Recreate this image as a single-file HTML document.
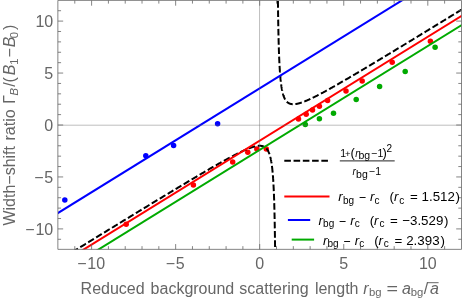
<!DOCTYPE html>
<html><head><meta charset="utf-8"><title>plot</title>
<style>html,body{margin:0;padding:0;background:#fff;}svg{display:block;transform:translateZ(0);will-change:transform;}text{font-family:"Liberation Sans",sans-serif;}</style>
</head><body>
<svg width="463" height="302" viewBox="0 0 463 302">
<rect x="0" y="0" width="463" height="302" fill="#ffffff"/>
<defs><clipPath id="c"><rect x="58.00" y="0.40" width="403.50" height="249.00"/></clipPath></defs>
<g clip-path="url(#c)">
<circle cx="64.8" cy="200.1" r="2.75" fill="#0000ff"/>
<circle cx="145.8" cy="155.8" r="2.75" fill="#0000ff"/>
<circle cx="173.6" cy="145.6" r="2.75" fill="#0000ff"/>
<circle cx="217.6" cy="123.7" r="2.75" fill="#0000ff"/>
<circle cx="126.2" cy="224.3" r="2.75" fill="#ff0000"/>
<circle cx="193.4" cy="185.0" r="2.75" fill="#ff0000"/>
<circle cx="232.7" cy="161.9" r="2.75" fill="#ff0000"/>
<circle cx="247.8" cy="152.2" r="2.75" fill="#ff0000"/>
<circle cx="256.8" cy="148.9" r="2.75" fill="#ff0000"/>
<circle cx="266.3" cy="148.9" r="2.75" fill="#ff0000"/>
<circle cx="298.5" cy="118.9" r="2.75" fill="#ff0000"/>
<circle cx="306.2" cy="114.2" r="2.75" fill="#ff0000"/>
<circle cx="312.5" cy="110.1" r="2.75" fill="#ff0000"/>
<circle cx="319.4" cy="106.2" r="2.75" fill="#ff0000"/>
<circle cx="327.6" cy="100.6" r="2.75" fill="#ff0000"/>
<circle cx="346.0" cy="91.1" r="2.75" fill="#ff0000"/>
<circle cx="362.2" cy="80.9" r="2.75" fill="#ff0000"/>
<circle cx="392.2" cy="62.2" r="2.75" fill="#ff0000"/>
<circle cx="430.4" cy="41.2" r="2.75" fill="#ff0000"/>
<circle cx="305.3" cy="124.4" r="2.75" fill="#00aa00"/>
<circle cx="319.4" cy="118.7" r="2.75" fill="#00aa00"/>
<circle cx="333.5" cy="113.2" r="2.75" fill="#00aa00"/>
<circle cx="356.2" cy="99.5" r="2.75" fill="#00aa00"/>
<circle cx="379.6" cy="86.5" r="2.75" fill="#00aa00"/>
<circle cx="405.2" cy="71.5" r="2.75" fill="#00aa00"/>
<circle cx="435.1" cy="47.3" r="2.75" fill="#00aa00"/>
<path d="M57.98,260.87 L59.44,259.97 L60.90,259.08 L62.34,258.19 L63.78,257.31 L65.20,256.43 L66.62,255.56 L68.03,254.70 L69.42,253.84 L70.81,252.99 L72.19,252.14 L73.56,251.30 L74.92,250.47 L76.27,249.64 L77.61,248.82 L78.94,248.00 L80.27,247.19 L81.58,246.38 L82.89,245.58 L84.18,244.78 L85.47,243.99 L86.75,243.21 L88.03,242.43 L89.29,241.65 L90.54,240.88 L91.79,240.12 L93.03,239.36 L94.26,238.61 L95.48,237.86 L96.69,237.12 L97.89,236.38 L99.09,235.64 L100.28,234.92 L101.46,234.19 L102.63,233.47 L103.80,232.76 L104.96,232.05 L106.11,231.35 L107.25,230.65 L108.38,229.96 L109.51,229.27 L110.63,228.58 L111.74,227.90 L112.84,227.23 L113.94,226.56 L115.03,225.89 L116.11,225.23 L117.19,224.57 L118.25,223.92 L119.31,223.27 L120.37,222.63 L121.41,221.99 L122.45,221.35 L123.48,220.72 L124.51,220.10 L125.53,219.48 L126.54,218.86 L127.54,218.25 L128.54,217.64 L129.53,217.03 L130.52,216.43 L131.50,215.83 L132.47,215.24 L133.43,214.65 L134.39,214.07 L135.34,213.49 L136.29,212.91 L137.23,212.34 L138.16,211.77 L139.09,211.21 L140.01,210.65 L140.93,210.09 L141.83,209.54 L142.74,208.99 L143.63,208.44 L144.52,207.90 L145.41,207.36 L146.29,206.83 L147.16,206.30 L148.03,205.77 L148.89,205.25 L149.74,204.73 L150.59,204.22 L151.43,203.70 L152.27,203.20 L153.10,202.69 L153.93,202.19 L154.75,201.69 L155.57,201.20 L156.38,200.70 L157.18,200.22 L157.98,199.73 L158.78,199.25 L159.57,198.77 L160.35,198.30 L161.13,197.83 L161.90,197.36 L162.67,196.90 L163.43,196.44 L164.19,195.98 L164.94,195.52 L165.69,195.07 L166.43,194.62 L167.17,194.18 L167.90,193.74 L168.63,193.30 L169.35,192.86 L170.07,192.43 L170.78,192.00 L171.49,191.57 L172.20,191.15 L172.90,190.73 L173.59,190.31 L174.28,189.90 L174.96,189.48 L175.64,189.07 L176.32,188.67 L176.99,188.27 L177.66,187.87 L178.32,187.47 L178.98,187.07 L179.63,186.68 L180.28,186.29 L180.93,185.91 L181.57,185.52 L182.20,185.14 L182.83,184.76 L183.46,184.39 L184.09,184.02 L184.71,183.65 L185.32,183.28 L185.93,182.91 L186.54,182.55 L187.14,182.19 L187.74,181.83 L188.33,181.48 L188.93,181.13 L189.51,180.78 L190.10,180.43 L190.67,180.09 L191.25,179.75 L191.82,179.41 L192.39,179.07 L192.95,178.74 L193.51,178.40 L194.07,178.07 L194.62,177.75 L195.17,177.42 L195.71,177.10 L196.26,176.78 L196.79,176.46 L197.33,176.15 L197.86,175.83 L198.38,175.52 L198.91,175.22 L199.43,174.91 L199.94,174.60 L200.46,174.30 L200.97,174.00 L201.47,173.71 L201.98,173.41 L202.48,173.12 L202.97,172.83 L203.46,172.54 L203.95,172.25 L204.44,171.97 L204.92,171.69 L205.40,171.41 L205.88,171.13 L206.35,170.85 L206.82,170.58 L207.29,170.31 L207.75,170.04 L208.21,169.77 L208.67,169.50 L209.13,169.24 L209.58,168.98 L210.03,168.72 L210.47,168.46 L210.91,168.21 L211.35,167.95 L211.79,167.70 L212.22,167.45 L212.65,167.20 L213.08,166.96 L213.51,166.71 L213.93,166.47 L214.35,166.23 L214.77,165.99 L215.18,165.76 L215.59,165.52 L216.00,165.29 L216.40,165.06 L216.81,164.83 L217.21,164.60 L217.60,164.37 L218.00,164.15 L218.39,163.93 L218.78,163.71 L219.17,163.49 L219.55,163.27 L219.93,163.06 L220.31,162.84 L220.69,162.63 L221.06,162.42 L221.43,162.21 L221.80,162.01 L222.17,161.80 L222.53,161.60 L222.90,161.40 L223.25,161.20 L223.61,161.00 L223.97,160.80 L224.32,160.61 L224.67,160.41 L225.01,160.22 L225.36,160.03 L225.70,159.84 L226.04,159.65 L226.38,159.47 L226.72,159.28 L227.05,159.10 L227.38,158.92 L227.71,158.74 L228.04,158.56 L228.36,158.39 L228.69,158.21 L229.01,158.04 L229.32,157.87 L229.64,157.70 L229.95,157.53 L230.27,157.36 L230.58,157.19 L230.88,157.03 L231.19,156.87 L231.49,156.70 L231.80,156.54 L232.09,156.38 L232.39,156.23 L232.69,156.07 L232.98,155.92 L233.27,155.76 L233.56,155.61 L233.85,155.46 L234.14,155.31 L234.42,155.16 L234.70,155.02 L234.98,154.87 L235.26,154.73 L235.54,154.59 L235.81,154.45 L236.08,154.31 L236.36,154.17 L236.62,154.03 L236.89,153.90 L237.16,153.76 L237.42,153.63 L237.68,153.50 L237.94,153.37 L238.20,153.24 L238.46,153.11 L238.71,152.98 L238.97,152.86 L239.22,152.73 L239.47,152.61 L239.72,152.49 L239.96,152.37 L240.21,152.25 L240.45,152.13 L240.69,152.01 L240.93,151.90 L241.17,151.79 L241.41,151.67 L241.64,151.56 L241.88,151.45 L242.11,151.34 L242.34,151.23 L242.57,151.12 L242.79,151.02 L243.02,150.91 L243.25,150.81 L243.47,150.71 L243.69,150.61 L243.91,150.51 L244.13,150.41 L244.34,150.31 L244.56,150.21 L244.77,150.12 L244.99,150.02 L245.20,149.93 L245.41,149.84 L245.62,149.75 L245.82,149.66 L246.03,149.57 L246.23,149.48 L246.44,149.40 L246.64,149.31 L246.84,149.23 L247.04,149.14 L247.23,149.06 L247.43,148.98 L247.63,148.90 L247.82,148.82 L248.01,148.74 L248.20,148.67 L248.39,148.59 L248.58,148.52 L248.77,148.44 L248.95,148.37 L249.14,148.30 L249.32,148.23 L249.50,148.16 L249.68,148.09 L249.86,148.02 L250.04,147.96 L250.22,147.89 L250.40,147.83 L250.57,147.77 L250.74,147.70 L250.92,147.64 L251.09,147.58 L251.26,147.52 L251.43,147.47 L251.60,147.41 L251.76,147.35 L251.93,147.30 L252.09,147.24 L252.26,147.19 L252.42,147.14 L252.58,147.09 L252.74,147.04 L252.90,146.99 L253.06,146.94 L253.22,146.90 L253.37,146.85 L253.53,146.80 L253.68,146.76 L253.83,146.72 L253.99,146.68 L254.14,146.63 L254.29,146.59 L254.44,146.56 L254.58,146.52 L254.73,146.48 L254.88,146.44 L255.02,146.41 L255.17,146.38 L255.31,146.34 L255.45,146.31 L255.59,146.28 L255.73,146.25 L255.87,146.22 L256.01,146.19 L256.15,146.16 L256.28,146.14 L256.42,146.11 L256.55,146.09 L256.69,146.06 L256.82,146.04 L256.95,146.02 L257.08,146.00 L257.21,145.98 L257.34,145.96 L257.47,145.94 L257.60,145.92 L257.73,145.91 L257.85,145.89 L257.98,145.88 L258.10,145.87 L258.22,145.85 L258.35,145.84 L258.47,145.83 L258.59,145.82 L258.71,145.81 L258.83,145.81 L258.95,145.80 L259.06,145.79 L259.18,145.79 L259.30,145.79 L259.41,145.78 L259.53,145.78 L259.64,145.78 L259.75,145.78 L259.87,145.78 L259.98,145.78 L260.09,145.79 L260.20,145.79 L260.31,145.79 L260.42,145.80 L260.52,145.81 L260.63,145.81 L260.74,145.82 L260.84,145.83 L260.95,145.84 L261.05,145.85 L261.16,145.87 L261.26,145.88 L261.36,145.89 L261.46,145.91 L261.56,145.92 L261.66,145.94 L261.76,145.96 L261.86,145.98 L261.96,146.00 L262.06,146.02 L262.15,146.04 L262.25,146.06 L262.35,146.09 L262.44,146.11 L262.54,146.14 L262.63,146.16 L262.72,146.19 L262.81,146.22 L262.91,146.25 L263.00,146.28 L263.09,146.31 L263.18,146.34 L263.27,146.37 L263.36,146.41 L263.44,146.44 L263.53,146.48 L263.62,146.52 L263.70,146.55 L263.79,146.59 L263.88,146.63 L263.96,146.67 L264.04,146.72 L264.13,146.76 L264.21,146.80 L264.29,146.85 L264.38,146.89 L264.46,146.94 L264.54,146.99 L264.62,147.04 L264.70,147.09 L264.78,147.14 L264.86,147.19 L264.93,147.24 L265.01,147.30 L265.09,147.35 L265.16,147.41 L265.24,147.46 L265.32,147.52 L265.39,147.58 L265.47,147.64 L265.54,147.70 L265.61,147.76 L265.69,147.83 L265.76,147.89 L265.83,147.96 L265.90,148.02 L265.97,148.09 L266.04,148.16 L266.11,148.23 L266.18,148.30 L266.25,148.37 L266.32,148.44 L266.39,148.51 L266.46,148.59 L266.52,148.66 L266.59,148.74 L266.66,148.82 L266.72,148.90 L266.79,148.98 L266.86,149.06 L266.92,149.14 L266.98,149.22 L267.05,149.31 L267.11,149.39 L267.17,149.48 L267.24,149.57 L267.30,149.65 L267.36,149.74 L267.42,149.84 L267.48,149.93 L267.54,150.02 L267.60,150.11 L267.66,150.21 L267.72,150.31 L267.78,150.40 L267.84,150.50 L267.90,150.60 L267.96,150.70 L268.01,150.81 L268.07,150.91 L268.13,151.01 L268.18,151.12 L268.24,151.23 L268.29,151.34 L268.35,151.44 L268.40,151.56 L268.46,151.67 L268.51,151.78 L268.57,151.89 L268.62,152.01 L268.67,152.13 L268.72,152.24 L268.78,152.36 L268.83,152.48 L268.88,152.61 L268.93,152.73 L268.98,152.85 L269.03,152.98 L269.08,153.10 L269.13,153.23 L269.18,153.36 L269.23,153.49 L269.28,153.62 L269.33,153.76 L269.38,153.89 L269.42,154.03 L269.47,154.16 L269.52,154.30 L269.56,154.44 L269.61,154.58 L269.66,154.72 L269.70,154.87 L269.75,155.01 L269.79,155.16 L269.84,155.31 L269.88,155.45 L269.93,155.61 L269.97,155.76 L270.02,155.91 L270.06,156.06 L270.10,156.22 L270.15,156.38 L270.19,156.54 L270.23,156.70 L270.27,156.86 L270.31,157.02 L270.36,157.19 L270.40,157.35 L270.44,157.52 L270.48,157.69 L270.52,157.86 L270.56,158.03 L270.60,158.20 L270.64,158.38 L270.68,158.56 L270.72,158.73 L270.76,158.91 L270.80,159.09 L270.83,159.28 L270.87,159.46 L270.91,159.65 L270.95,159.83 L270.98,160.02 L271.02,160.21 L271.06,160.40 L271.09,160.60 L271.13,160.79 L271.17,160.99 L271.20,161.19 L271.24,161.39 L271.27,161.59 L271.31,161.79 L271.34,162.00 L271.38,162.20 L271.41,162.41 L271.45,162.62 L271.48,162.83 L271.51,163.05 L271.55,163.26 L271.58,163.48 L271.61,163.70 L271.65,163.92 L271.68,164.14 L271.71,164.36 L271.74,164.59 L271.78,164.82 L271.81,165.05 L271.84,165.28 L271.87,165.51 L271.90,165.75 L271.93,165.98 L271.96,166.22 L271.99,166.46 L272.02,166.70 L272.05,166.95 L272.08,167.19 L272.11,167.44 L272.14,167.69 L272.17,167.94 L272.20,168.20 L272.23,168.45 L272.26,168.71 L272.29,168.97 L272.32,169.23 L272.34,169.49 L272.37,169.76 L272.40,170.03 L272.43,170.30 L272.45,170.57 L272.48,170.84 L272.51,171.12 L272.53,171.39 L272.56,171.67 L272.59,171.96 L272.61,172.24 L272.64,172.53 L272.67,172.82 L272.69,173.11 L272.72,173.40 L272.74,173.69 L272.77,173.99 L272.79,174.29 L272.82,174.59 L272.84,174.90 L272.87,175.20 L272.89,175.51 L272.92,175.82 L272.94,176.13 L272.96,176.45 L272.99,176.77 L273.01,177.09 L273.04,177.41 L273.06,177.73 L273.08,178.06 L273.10,178.39 L273.13,178.72 L273.15,179.06 L273.17,179.39 L273.19,179.73 L273.22,180.07 L273.24,180.42 L273.26,180.76 L273.28,181.11 L273.30,181.47 L273.33,181.82 L273.35,182.18 L273.37,182.54 L273.39,182.90 L273.41,183.26 L273.43,183.63 L273.45,184.00 L273.47,184.37 L273.49,184.75 L273.51,185.13 L273.53,185.51 L273.55,185.89 L273.57,186.28 L273.59,186.66 L273.61,187.06 L273.63,187.45 L273.65,187.85 L273.67,188.25 L273.69,188.65 L273.71,189.06 L273.73,189.47 L273.75,189.88 L273.76,190.29 L273.78,190.71 L273.80,191.13 L273.82,191.55 L273.84,191.98 L273.85,192.41 L273.87,192.84 L273.89,193.28 L273.91,193.72 L273.92,194.16 L273.94,194.60 L273.96,195.05 L273.98,195.50 L273.99,195.96 L274.01,196.42 L274.03,196.88 L274.04,197.34 L274.06,197.81 L274.08,198.28 L274.09,198.75 L274.11,199.23 L274.13,199.71 L274.14,200.20 L274.16,200.68 L274.17,201.17 L274.19,201.67 L274.20,202.17 L274.22,202.67 L274.23,203.17 L274.25,203.68 L274.27,204.19 L274.28,204.71 L274.30,205.23 L274.31,205.75 L274.32,206.28 L274.34,206.81 L274.35,207.34 L274.37,207.88 L274.38,208.42 L274.40,208.97 L274.41,209.51 L274.43,210.07 L274.44,210.62 L274.45,211.18 L274.47,211.75 L274.48,212.32 L274.49,212.89 L274.51,213.46 L274.52,214.04 L274.53,214.63 L274.55,215.22 L274.56,215.81 L274.57,216.41 L274.59,217.01 L274.60,217.61 L274.61,218.22 L274.63,218.83 L274.64,219.45 L274.65,220.07 L274.66,220.70 L274.68,221.33 L274.69,221.96 L274.70,222.60 L274.71,223.24 L274.72,223.89 L274.74,224.54 L274.75,225.20 L274.76,225.86 L274.77,226.53 L274.78,227.20 L274.79,227.87 L274.81,228.55 L274.82,229.24 L274.83,229.93 L274.84,230.62 L274.85,231.32 L274.86,232.02 L274.87,232.73 L274.88,233.44 L274.90,234.16 L274.91,234.88 L274.92,235.61 L274.93,236.35 L274.94,237.08 L274.95,237.83 L274.96,238.57 L274.97,239.33 L274.98,240.09 L274.99,240.85 L275.00,241.62 L275.01,242.39 L275.02,243.17 L275.03,243.96 L275.04,244.75 L275.05,245.54 L275.06,246.34 L275.07,247.15 L275.08,247.96 L275.09,248.78 L275.10,249.60 L275.11,250.43 L275.12,251.27 L275.13,252.11 L275.14,252.95 L275.15,253.80 L275.15,254.66 L275.16,255.53 L275.17,256.39 L275.18,257.27 L275.19,258.15 L275.20,259.04 L275.21,259.93 L275.22,260.83 L275.23,261.74 L275.23,262.65 L275.24,263.57 L275.25,264.49 L275.26,265.42 L275.27,266.36 L275.28,267.30 L275.28,268.25 L275.29,269.21 L275.30,270.17 L275.31,271.14 L275.32,272.11 L275.32,273.10 L275.33,274.09 L275.34,275.08 L275.35,276.08 L275.36,277.09 L275.36,278.11 L275.37,279.13 L275.38,280.16 L275.39,281.20 L275.39,282.24 L275.40,283.30 L275.41,284.36 L275.42,285.42 L275.42,286.49 L275.43,287.57 L275.44,288.66 L275.45,289.76 L275.45,290.86 L275.46,291.97 L275.47,293.09 L275.47,294.21 L275.48,295.35 L275.49,296.49 L275.49,297.63 L275.50,298.79" fill="none" stroke="#000" stroke-width="2.00" stroke-dasharray="6.636 2.674" stroke-dashoffset="1.78"/>
<path d="M277.52,-48.79 L277.53,-47.67 L277.53,-46.55 L277.54,-45.44 L277.55,-44.34 L277.55,-43.24 L277.56,-42.15 L277.57,-41.07 L277.57,-40.00 L277.58,-38.93 L277.59,-37.87 L277.59,-36.82 L277.60,-35.78 L277.61,-34.74 L277.62,-33.71 L277.62,-32.68 L277.63,-31.66 L277.64,-30.65 L277.64,-29.65 L277.65,-28.65 L277.66,-27.66 L277.67,-26.67 L277.67,-25.69 L277.68,-24.72 L277.69,-23.75 L277.70,-22.79 L277.71,-21.84 L277.71,-20.89 L277.72,-19.95 L277.73,-19.02 L277.74,-18.09 L277.75,-17.17 L277.75,-16.25 L277.76,-15.34 L277.77,-14.44 L277.78,-13.54 L277.79,-12.65 L277.79,-11.76 L277.80,-10.88 L277.81,-10.00 L277.82,-9.13 L277.83,-8.27 L277.84,-7.41 L277.85,-6.56 L277.85,-5.72 L277.86,-4.87 L277.87,-4.04 L277.88,-3.21 L277.89,-2.39 L277.90,-1.57 L277.91,-0.75 L277.92,0.06 L277.93,0.86 L277.94,1.66 L277.95,2.45 L277.95,3.23 L277.96,4.02 L277.97,4.79 L277.98,5.56 L277.99,6.33 L278.00,7.09 L278.01,7.85 L278.02,8.60 L278.03,9.34 L278.04,10.09 L278.05,10.82 L278.06,11.55 L278.07,12.28 L278.08,13.00 L278.09,13.72 L278.10,14.43 L278.11,15.14 L278.12,15.84 L278.14,16.54 L278.15,17.23 L278.16,17.92 L278.17,18.61 L278.18,19.29 L278.19,19.96 L278.20,20.63 L278.21,21.30 L278.22,21.96 L278.23,22.62 L278.25,23.27 L278.26,23.92 L278.27,24.56 L278.28,25.20 L278.29,25.84 L278.30,26.47 L278.31,27.10 L278.33,27.72 L278.34,28.34 L278.35,28.96 L278.36,29.57 L278.37,30.17 L278.39,30.78 L278.40,31.38 L278.41,31.97 L278.42,32.56 L278.44,33.15 L278.45,33.73 L278.46,34.31 L278.47,34.89 L278.49,35.46 L278.50,36.02 L278.51,36.59 L278.53,37.15 L278.54,37.70 L278.55,38.26 L278.57,38.80 L278.58,39.35 L278.59,39.89 L278.61,40.43 L278.62,40.96 L278.63,41.49 L278.65,42.02 L278.66,42.54 L278.68,43.06 L278.69,43.58 L278.71,44.09 L278.72,44.60 L278.73,45.11 L278.75,45.61 L278.76,46.11 L278.78,46.61 L278.79,47.10 L278.81,47.59 L278.82,48.07 L278.84,48.56 L278.85,49.03 L278.87,49.51 L278.88,49.98 L278.90,50.45 L278.92,50.92 L278.93,51.38 L278.95,51.84 L278.96,52.30 L278.98,52.75 L279.00,53.20 L279.01,53.65 L279.03,54.10 L279.05,54.54 L279.06,54.98 L279.08,55.41 L279.10,55.84 L279.11,56.27 L279.13,56.70 L279.15,57.13 L279.16,57.55 L279.18,57.96 L279.20,58.38 L279.22,58.79 L279.23,59.20 L279.25,59.61 L279.27,60.01 L279.29,60.41 L279.31,60.81 L279.32,61.21 L279.34,61.60 L279.36,61.99 L279.38,62.38 L279.40,62.76 L279.42,63.14 L279.44,63.52 L279.46,63.90 L279.48,64.27 L279.50,64.65 L279.51,65.02 L279.53,65.38 L279.55,65.75 L279.57,66.11 L279.59,66.47 L279.61,66.82 L279.63,67.18 L279.66,67.53 L279.68,67.88 L279.70,68.22 L279.72,68.57 L279.74,68.91 L279.76,69.25 L279.78,69.59 L279.80,69.92 L279.82,70.25 L279.85,70.58 L279.87,70.91 L279.89,71.24 L279.91,71.56 L279.93,71.88 L279.96,72.20 L279.98,72.51 L280.00,72.83 L280.03,73.14 L280.05,73.45 L280.07,73.76 L280.09,74.06 L280.12,74.36 L280.14,74.67 L280.17,74.96 L280.19,75.26 L280.21,75.55 L280.24,75.85 L280.26,76.14 L280.29,76.43 L280.31,76.71 L280.34,77.00 L280.36,77.28 L280.39,77.56 L280.41,77.83 L280.44,78.11 L280.46,78.38 L280.49,78.66 L280.52,78.93 L280.54,79.19 L280.57,79.46 L280.60,79.72 L280.62,79.99 L280.65,80.25 L280.68,80.50 L280.70,80.76 L280.73,81.01 L280.76,81.27 L280.79,81.52 L280.81,81.77 L280.84,82.01 L280.87,82.26 L280.90,82.50 L280.93,82.74 L280.96,82.98 L280.99,83.22 L281.02,83.46 L281.05,83.69 L281.08,83.92 L281.11,84.15 L281.14,84.38 L281.17,84.61 L281.20,84.84 L281.23,85.06 L281.26,85.28 L281.29,85.50 L281.32,85.72 L281.35,85.94 L281.38,86.15 L281.42,86.37 L281.45,86.58 L281.48,86.79 L281.51,87.00 L281.55,87.20 L281.58,87.41 L281.61,87.61 L281.65,87.82 L281.68,88.02 L281.71,88.22 L281.75,88.41 L281.78,88.61 L281.82,88.80 L281.85,89.00 L281.89,89.19 L281.92,89.38 L281.96,89.57 L281.99,89.75 L282.03,89.94 L282.06,90.12 L282.10,90.31 L282.14,90.49 L282.17,90.67 L282.21,90.84 L282.25,91.02 L282.29,91.20 L282.32,91.37 L282.36,91.54 L282.40,91.71 L282.44,91.88 L282.48,92.05 L282.52,92.22 L282.56,92.38 L282.60,92.54 L282.64,92.71 L282.68,92.87 L282.72,93.03 L282.76,93.19 L282.80,93.34 L282.84,93.50 L282.88,93.65 L282.92,93.80 L282.97,93.96 L283.01,94.11 L283.05,94.25 L283.09,94.40 L283.14,94.55 L283.18,94.69 L283.22,94.84 L283.27,94.98 L283.31,95.12 L283.36,95.26 L283.40,95.40 L283.45,95.54 L283.49,95.67 L283.54,95.81 L283.58,95.94 L283.63,96.07 L283.68,96.20 L283.72,96.33 L283.77,96.46 L283.82,96.59 L283.87,96.71 L283.92,96.84 L283.96,96.96 L284.01,97.08 L284.06,97.21 L284.11,97.33 L284.16,97.44 L284.21,97.56 L284.26,97.68 L284.31,97.79 L284.36,97.91 L284.42,98.02 L284.47,98.13 L284.52,98.24 L284.57,98.35 L284.63,98.46 L284.68,98.57 L284.73,98.68 L284.79,98.78 L284.84,98.88 L284.89,98.99 L284.95,99.09 L285.01,99.19 L285.06,99.29 L285.12,99.39 L285.17,99.49 L285.23,99.58 L285.29,99.68 L285.35,99.77 L285.40,99.86 L285.46,99.96 L285.52,100.05 L285.58,100.14 L285.64,100.22 L285.70,100.31 L285.76,100.40 L285.82,100.48 L285.88,100.57 L285.94,100.65 L286.00,100.74 L286.07,100.82 L286.13,100.90 L286.19,100.98 L286.26,101.05 L286.32,101.13 L286.38,101.21 L286.45,101.28 L286.51,101.36 L286.58,101.43 L286.65,101.50 L286.71,101.57 L286.78,101.64 L286.85,101.71 L286.91,101.78 L286.98,101.85 L287.05,101.92 L287.12,101.98 L287.19,102.04 L287.26,102.11 L287.33,102.17 L287.40,102.23 L287.47,102.29 L287.54,102.35 L287.62,102.41 L287.69,102.47 L287.76,102.52 L287.84,102.58 L287.91,102.63 L287.99,102.69 L288.06,102.74 L288.14,102.79 L288.21,102.84 L288.29,102.89 L288.37,102.94 L288.44,102.99 L288.52,103.04 L288.60,103.08 L288.68,103.13 L288.76,103.17 L288.84,103.21 L288.92,103.26 L289.00,103.30 L289.09,103.34 L289.17,103.38 L289.25,103.42 L289.33,103.45 L289.42,103.49 L289.50,103.53 L289.59,103.56 L289.67,103.60 L289.76,103.63 L289.85,103.66 L289.93,103.69 L290.02,103.72 L290.11,103.75 L290.20,103.78 L290.29,103.81 L290.38,103.83 L290.47,103.86 L290.56,103.89 L290.66,103.91 L290.75,103.93 L290.84,103.96 L290.94,103.98 L291.03,104.00 L291.13,104.02 L291.22,104.03 L291.32,104.05 L291.41,104.07 L291.51,104.09 L291.61,104.10 L291.71,104.11 L291.81,104.13 L291.91,104.14 L292.01,104.15 L292.11,104.16 L292.21,104.17 L292.32,104.18 L292.42,104.19 L292.53,104.20 L292.63,104.20 L292.74,104.21 L292.84,104.21 L292.95,104.21 L293.06,104.22 L293.17,104.22 L293.28,104.22 L293.39,104.22 L293.50,104.22 L293.61,104.22 L293.72,104.21 L293.83,104.21 L293.95,104.21 L294.06,104.20 L294.18,104.19 L294.29,104.19 L294.41,104.18 L294.53,104.17 L294.64,104.16 L294.76,104.15 L294.88,104.14 L295.00,104.13 L295.12,104.11 L295.25,104.10 L295.37,104.08 L295.49,104.07 L295.62,104.05 L295.74,104.03 L295.87,104.01 L296.00,103.99 L296.12,103.97 L296.25,103.95 L296.38,103.93 L296.51,103.91 L296.64,103.88 L296.77,103.86 L296.91,103.83 L297.04,103.80 L297.18,103.78 L297.31,103.75 L297.45,103.72 L297.59,103.69 L297.72,103.65 L297.86,103.62 L298.00,103.59 L298.14,103.56 L298.29,103.52 L298.43,103.48 L298.57,103.45 L298.72,103.41 L298.86,103.37 L299.01,103.33 L299.16,103.29 L299.31,103.25 L299.45,103.21 L299.61,103.16 L299.76,103.12 L299.91,103.07 L300.06,103.03 L300.22,102.98 L300.37,102.93 L300.53,102.88 L300.69,102.83 L300.84,102.78 L301.00,102.73 L301.17,102.68 L301.33,102.62 L301.49,102.57 L301.65,102.51 L301.82,102.46 L301.98,102.40 L302.15,102.34 L302.32,102.28 L302.49,102.22 L302.66,102.16 L302.83,102.10 L303.00,102.03 L303.18,101.97 L303.35,101.90 L303.53,101.84 L303.71,101.77 L303.88,101.70 L304.06,101.63 L304.24,101.56 L304.43,101.49 L304.61,101.42 L304.79,101.34 L304.98,101.27 L305.17,101.19 L305.35,101.12 L305.54,101.04 L305.73,100.96 L305.92,100.88 L306.12,100.80 L306.31,100.72 L306.51,100.64 L306.70,100.55 L306.90,100.47 L307.10,100.38 L307.30,100.30 L307.50,100.21 L307.71,100.12 L307.91,100.03 L308.12,99.94 L308.32,99.85 L308.53,99.75 L308.74,99.66 L308.95,99.56 L309.17,99.47 L309.38,99.37 L309.60,99.27 L309.81,99.17 L310.03,99.07 L310.25,98.97 L310.47,98.87 L310.70,98.76 L310.92,98.66 L311.15,98.55 L311.37,98.44 L311.60,98.33 L311.83,98.22 L312.06,98.11 L312.30,98.00 L312.53,97.89 L312.77,97.77 L313.01,97.66 L313.24,97.54 L313.49,97.42 L313.73,97.30 L313.97,97.18 L314.22,97.06 L314.47,96.94 L314.71,96.81 L314.96,96.69 L315.22,96.56 L315.47,96.44 L315.73,96.31 L315.98,96.18 L316.24,96.05 L316.50,95.91 L316.77,95.78 L317.03,95.65 L317.29,95.51 L317.56,95.37 L317.83,95.23 L318.10,95.09 L318.38,94.95 L318.65,94.81 L318.93,94.67 L319.20,94.52 L319.48,94.37 L319.77,94.23 L320.05,94.08 L320.34,93.93 L320.62,93.78 L320.91,93.62 L321.20,93.47 L321.50,93.31 L321.79,93.16 L322.09,93.00 L322.39,92.84 L322.69,92.68 L322.99,92.51 L323.30,92.35 L323.60,92.18 L323.91,92.02 L324.22,91.85 L324.54,91.68 L324.85,91.51 L325.17,91.34 L325.49,91.16 L325.81,90.99 L326.13,90.81 L326.46,90.63 L326.78,90.45 L327.11,90.27 L327.45,90.09 L327.78,89.90 L328.12,89.72 L328.45,89.53 L328.79,89.34 L329.14,89.15 L329.48,88.96 L329.83,88.77 L330.18,88.57 L330.53,88.38 L330.89,88.18 L331.24,87.98 L331.60,87.78 L331.96,87.58 L332.33,87.37 L332.69,87.17 L333.06,86.96 L333.43,86.75 L333.81,86.54 L334.18,86.33 L334.56,86.11 L334.94,85.90 L335.32,85.68 L335.71,85.46 L336.10,85.24 L336.49,85.02 L336.88,84.79 L337.28,84.57 L337.68,84.34 L338.08,84.11 L338.48,83.88 L338.89,83.65 L339.30,83.41 L339.71,83.17 L340.12,82.94 L340.54,82.70 L340.96,82.46 L341.38,82.21 L341.81,81.97 L342.24,81.72 L342.67,81.47 L343.10,81.22 L343.54,80.97 L343.98,80.71 L344.42,80.45 L344.86,80.20 L345.31,79.94 L345.76,79.67 L346.22,79.41 L346.68,79.14 L347.14,78.87 L347.60,78.60 L348.06,78.33 L348.53,78.06 L349.01,77.78 L349.48,77.50 L349.96,77.22 L350.44,76.94 L350.93,76.66 L351.41,76.37 L351.91,76.08 L352.40,75.79 L352.90,75.50 L353.40,75.20 L353.90,74.91 L354.41,74.61 L354.92,74.31 L355.44,74.00 L355.95,73.70 L356.47,73.39 L357.00,73.08 L357.53,72.77 L358.06,72.45 L358.59,72.14 L359.13,71.82 L359.67,71.50 L360.22,71.17 L360.77,70.85 L361.32,70.52 L361.88,70.19 L362.44,69.86 L363.00,69.52 L363.57,69.19 L364.14,68.85 L364.71,68.50 L365.29,68.16 L365.87,67.81 L366.46,67.46 L367.05,67.11 L367.64,66.76 L368.24,66.40 L368.84,66.04 L369.45,65.68 L370.06,65.31 L370.67,64.95 L371.29,64.58 L371.91,64.20 L372.54,63.83 L373.17,63.45 L373.80,63.07 L374.44,62.69 L375.08,62.30 L375.73,61.92 L376.38,61.53 L377.03,61.13 L377.69,60.74 L378.35,60.34 L379.02,59.94 L379.69,59.53 L380.37,59.12 L381.05,58.71 L381.74,58.30 L382.43,57.88 L383.12,57.47 L383.82,57.04 L384.53,56.62 L385.23,56.19 L385.95,55.76 L386.66,55.33 L387.39,54.89 L388.11,54.45 L388.85,54.01 L389.58,53.57 L390.32,53.12 L391.07,52.67 L391.82,52.21 L392.58,51.76 L393.34,51.29 L394.11,50.83 L394.88,50.36 L395.65,49.89 L396.43,49.42 L397.22,48.94 L398.01,48.46 L398.81,47.98 L399.61,47.49 L400.42,47.00 L401.23,46.51 L402.05,46.02 L402.87,45.52 L403.70,45.01 L404.53,44.51 L405.37,44.00 L406.22,43.48 L407.07,42.96 L407.93,42.44 L408.79,41.92 L409.66,41.39 L410.53,40.86 L411.41,40.33 L412.29,39.79 L413.18,39.25 L414.08,38.70 L414.98,38.15 L415.89,37.60 L416.80,37.04 L417.72,36.48 L418.65,35.92 L419.58,35.35 L420.52,34.78 L421.46,34.20 L422.42,33.62 L423.37,33.04 L424.34,32.45 L425.30,31.86 L426.28,31.26 L427.26,30.66 L428.25,30.06 L429.25,29.45 L430.25,28.84 L431.26,28.22 L432.27,27.61 L433.29,26.98 L434.32,26.35 L435.36,25.72 L436.40,25.08 L437.45,24.44 L438.50,23.80 L439.56,23.15 L440.63,22.49 L441.71,21.84 L442.79,21.17 L443.88,20.51 L444.98,19.83 L446.09,19.16 L447.20,18.48 L448.32,17.79 L449.44,17.10 L450.58,16.41 L451.72,15.71 L452.87,15.00 L454.03,14.30 L455.19,13.58 L456.36,12.87 L457.54,12.14 L458.73,11.42 L459.92,10.68 L461.13,9.95 L462.34,9.20 L463.56,8.46 L464.78,7.70" fill="none" stroke="#000" stroke-width="2.00" stroke-dasharray="6.6 2.66" stroke-dashoffset="5.66"/>
<line x1="49.58" y1="270.58" x2="469.82" y2="10.83" stroke="#ff0000" stroke-width="2.00"/>
<line x1="49.58" y1="218.21" x2="469.82" y2="-41.54" stroke="#0000ff" stroke-width="2.00"/>
<line x1="49.58" y1="279.74" x2="469.82" y2="19.99" stroke="#00aa00" stroke-width="2.00"/>
</g>
<line x1="57.87" y1="125.2" x2="461.50" y2="125.2" stroke="#666" stroke-opacity="0.5" stroke-width="0.85"/>
<line x1="259.55" y1="0.40" x2="259.55" y2="249.35" stroke="#666" stroke-opacity="0.45" stroke-width="0.95"/>
<path d="M74.79,249.35 v-3.20 M74.79,0.40 v3.20 M57.87,239.29 h3.20 M461.50,239.29 h-3.20 M91.60,249.35 v-5.30 M91.60,0.40 v5.30 M57.87,228.90 h5.30 M461.50,228.90 h-5.30 M108.41,249.35 v-3.20 M108.41,0.40 v3.20 M57.87,218.51 h3.20 M461.50,218.51 h-3.20 M125.22,249.35 v-3.20 M125.22,0.40 v3.20 M57.87,208.12 h3.20 M461.50,208.12 h-3.20 M142.03,249.35 v-3.20 M142.03,0.40 v3.20 M57.87,197.73 h3.20 M461.50,197.73 h-3.20 M158.84,249.35 v-3.20 M158.84,0.40 v3.20 M57.87,187.34 h3.20 M461.50,187.34 h-3.20 M175.65,249.35 v-5.30 M175.65,0.40 v5.30 M57.87,176.95 h5.30 M461.50,176.95 h-5.30 M192.46,249.35 v-3.20 M192.46,0.40 v3.20 M57.87,166.56 h3.20 M461.50,166.56 h-3.20 M209.27,249.35 v-3.20 M209.27,0.40 v3.20 M57.87,156.17 h3.20 M461.50,156.17 h-3.20 M226.08,249.35 v-3.20 M226.08,0.40 v3.20 M57.87,145.78 h3.20 M461.50,145.78 h-3.20 M242.89,249.35 v-3.20 M242.89,0.40 v3.20 M57.87,135.39 h3.20 M461.50,135.39 h-3.20 M259.70,249.35 v-5.30 M259.70,0.40 v5.30 M57.87,125.00 h5.30 M461.50,125.00 h-5.30 M276.51,249.35 v-3.20 M276.51,0.40 v3.20 M57.87,114.61 h3.20 M461.50,114.61 h-3.20 M293.32,249.35 v-3.20 M293.32,0.40 v3.20 M57.87,104.22 h3.20 M461.50,104.22 h-3.20 M310.13,249.35 v-3.20 M310.13,0.40 v3.20 M57.87,93.83 h3.20 M461.50,93.83 h-3.20 M326.94,249.35 v-3.20 M326.94,0.40 v3.20 M57.87,83.44 h3.20 M461.50,83.44 h-3.20 M343.75,249.35 v-5.30 M343.75,0.40 v5.30 M57.87,73.05 h5.30 M461.50,73.05 h-5.30 M360.56,249.35 v-3.20 M360.56,0.40 v3.20 M57.87,62.66 h3.20 M461.50,62.66 h-3.20 M377.37,249.35 v-3.20 M377.37,0.40 v3.20 M57.87,52.27 h3.20 M461.50,52.27 h-3.20 M394.18,249.35 v-3.20 M394.18,0.40 v3.20 M57.87,41.88 h3.20 M461.50,41.88 h-3.20 M410.99,249.35 v-3.20 M410.99,0.40 v3.20 M57.87,31.49 h3.20 M461.50,31.49 h-3.20 M427.80,249.35 v-5.30 M427.80,0.40 v5.30 M57.87,21.10 h5.30 M461.50,21.10 h-5.30 M444.61,249.35 v-3.20 M444.61,0.40 v3.20 M57.87,10.71 h3.20 M461.50,10.71 h-3.20" stroke="#666" stroke-width="0.8" fill="none"/>
<path d="M57.87,0.40 H461.50 V249.35 H57.87 Z" fill="none" stroke="#666" stroke-width="0.8"/>
<text x="77.23" y="269.3" font-size="16" fill="#666666">−</text>
<text x="87.37" y="269.3" font-size="16" fill="#666666">10</text>
<text x="34.60" y="234.60" font-size="16" fill="#666666" text-anchor="end">−</text>
<text x="53.2" y="234.60" font-size="16" fill="#666666" text-anchor="end">10</text>
<text x="165.73" y="269.3" font-size="16" fill="#666666">−</text>
<text x="175.87" y="269.3" font-size="16" fill="#666666">5</text>
<text x="43.50" y="182.65" font-size="16" fill="#666666" text-anchor="end">−</text>
<text x="53.2" y="182.65" font-size="16" fill="#666666" text-anchor="end">5</text>
<text x="259.70" y="269.3" font-size="16" fill="#666666" text-anchor="middle">0</text>
<text x="53.2" y="130.70" font-size="16" fill="#666666" text-anchor="end">0</text>
<text x="343.75" y="269.3" font-size="16" fill="#666666" text-anchor="middle">5</text>
<text x="53.2" y="78.75" font-size="16" fill="#666666" text-anchor="end">5</text>
<text x="427.80" y="269.3" font-size="16" fill="#666666" text-anchor="middle">10</text>
<text x="53.2" y="26.80" font-size="16" fill="#666666" text-anchor="end">10</text>
<text x="80.60" y="294.00" font-size="16" fill="#666666">Reduced</text>
<text x="150.60" y="294.00" font-size="16" fill="#666666">background</text>
<text x="239.30" y="294.00" font-size="16" fill="#666666">scattering</text>
<text x="314.90" y="294.00" font-size="16" fill="#666666">length</text>
<text x="363.20" y="294.00" font-size="16" fill="#666666" font-style="italic">r</text>
<text x="369.00" y="296.40" font-size="11.3" fill="#666666">bg</text>
<text x="386.60" y="294.00" font-size="16" fill="#666666" textLength="11.5" lengthAdjust="spacingAndGlyphs">=</text>
<text x="402.00" y="294.00" font-size="16" fill="#666666" font-style="italic">a</text>
<text x="410.70" y="296.40" font-size="11.3" fill="#666666">bg</text>
<text x="423.80" y="294.00" font-size="16" fill="#666666">/</text>
<text x="430.00" y="294.00" font-size="16" fill="#666666" font-style="italic">a</text>
<line x1="427.3" y1="282.7" x2="438.6" y2="282.7" stroke="#666666" stroke-width="1"/>
<text transform="translate(14.90,225.60) rotate(-90)" font-size="16" fill="#666666">Width−shift</text>
<text transform="translate(14.90,140.50) rotate(-90)" font-size="16" fill="#666666">ratio</text>
<text transform="translate(14.90,103.80) rotate(-90)" font-size="16" fill="#666666">Γ</text>
<text transform="translate(17.90,95.50) rotate(-90)" font-size="11.3" fill="#666666" font-style="italic">B</text>
<text transform="translate(14.90,86.70) rotate(-90)" font-size="16" fill="#666666">/</text>
<text transform="translate(14.90,82.50) rotate(-90)" font-size="16" fill="#666666">(</text>
<text transform="translate(14.90,75.30) rotate(-90)" font-size="16" fill="#666666" font-style="italic">B</text>
<text transform="translate(17.90,64.70) rotate(-90)" font-size="11.3" fill="#666666">1</text>
<text transform="translate(14.90,57.60) rotate(-90)" font-size="16" fill="#666666">−</text>
<text transform="translate(14.90,47.30) rotate(-90)" font-size="16" fill="#666666" font-style="italic">B</text>
<text transform="translate(17.90,38.30) rotate(-90)" font-size="11.3" fill="#666666">0</text>
<text transform="translate(14.90,29.90) rotate(-90)" font-size="16" fill="#666666">)</text>
<line x1="284.3" y1="160.7" x2="328" y2="160.7" stroke="#000" stroke-width="2" stroke-dasharray="6.6 2.66"/>
<line x1="339.8" y1="160.9" x2="394.7" y2="160.9" stroke="#222" stroke-width="1"/>
<text x="340.20" y="156.90" font-size="10.5" fill="#000">1</text>
<text x="344.90" y="157.10" font-size="9.5" fill="#000">+</text>
<text x="350.60" y="156.90" font-size="13" fill="#000">(</text>
<text x="355.20" y="156.70" font-size="10" fill="#000" font-style="italic">r</text>
<text x="358.50" y="159.30" font-size="10.5" fill="#000">bg</text>
<text x="370.90" y="156.90" font-size="10.5" fill="#000">−</text>
<text x="377.50" y="156.90" font-size="10.5" fill="#000">1</text>
<text x="382.60" y="156.90" font-size="13" fill="#000">)</text>
<text x="386.60" y="152.30" font-size="10" fill="#000">2</text>
<text x="352.60" y="175.10" font-size="10" fill="#000" font-style="italic">r</text>
<text x="356.10" y="178.10" font-size="10.5" fill="#000">bg</text>
<text x="368.80" y="175.10" font-size="10.5" fill="#000">−</text>
<text x="375.30" y="175.10" font-size="10.5" fill="#000">1</text>
<line x1="284.3" y1="196.5" x2="329.5" y2="196.5" stroke="#ff0000" stroke-width="2"/>
<text x="338.30" y="201.30" font-size="13.33" fill="#000" font-style="italic">r</text>
<text x="342.90" y="203.60" font-size="10" fill="#000">bg</text>
<text x="358.90" y="202.30" font-size="13.33" fill="#000" textLength="7.2" lengthAdjust="spacingAndGlyphs">−</text>
<text x="370.10" y="201.30" font-size="13.33" fill="#000" font-style="italic">r</text>
<text x="374.60" y="203.60" font-size="10" fill="#000">c</text>
<text x="389.60" y="201.30" font-size="13.33" fill="#000">(</text>
<text x="393.90" y="201.30" font-size="13.33" fill="#000" font-style="italic">r</text>
<text x="399.20" y="203.60" font-size="10" fill="#000">c</text>
<text x="409.90" y="201.30" font-size="13.33" fill="#000">=</text>
<text x="421.60" y="201.30" font-size="13.33" fill="#000">1.512</text>
<text x="455.50" y="201.30" font-size="13.33" fill="#000">)</text>
<line x1="287.9" y1="220.0" x2="310.2" y2="220.0" stroke="#0000ff" stroke-width="2"/>
<text x="318.50" y="225.00" font-size="13.33" fill="#000" font-style="italic">r</text>
<text x="323.10" y="227.30" font-size="10" fill="#000">bg</text>
<text x="339.10" y="226.00" font-size="13.33" fill="#000" textLength="7.2" lengthAdjust="spacingAndGlyphs">−</text>
<text x="350.30" y="225.00" font-size="13.33" fill="#000" font-style="italic">r</text>
<text x="354.80" y="227.30" font-size="10" fill="#000">c</text>
<text x="369.80" y="225.00" font-size="13.33" fill="#000">(</text>
<text x="374.10" y="225.00" font-size="13.33" fill="#000" font-style="italic">r</text>
<text x="379.40" y="227.30" font-size="10" fill="#000">c</text>
<text x="390.10" y="225.00" font-size="13.33" fill="#000">=</text>
<text x="402.20" y="225.00" font-size="13.33" fill="#000">−3.529</text>
<text x="444.00" y="225.00" font-size="13.33" fill="#000">)</text>
<line x1="291.7" y1="239.6" x2="314.1" y2="239.6" stroke="#00aa00" stroke-width="2"/>
<text x="322.90" y="244.50" font-size="13.33" fill="#000" font-style="italic">r</text>
<text x="327.50" y="246.80" font-size="10" fill="#000">bg</text>
<text x="343.50" y="245.50" font-size="13.33" fill="#000" textLength="7.2" lengthAdjust="spacingAndGlyphs">−</text>
<text x="354.70" y="244.50" font-size="13.33" fill="#000" font-style="italic">r</text>
<text x="359.20" y="246.80" font-size="10" fill="#000">c</text>
<text x="374.20" y="244.50" font-size="13.33" fill="#000">(</text>
<text x="378.50" y="244.50" font-size="13.33" fill="#000" font-style="italic">r</text>
<text x="383.80" y="246.80" font-size="10" fill="#000">c</text>
<text x="394.50" y="244.50" font-size="13.33" fill="#000">=</text>
<text x="406.20" y="244.50" font-size="13.33" fill="#000">2.393</text>
<text x="440.60" y="244.50" font-size="13.33" fill="#000">)</text>
</svg></body></html>
